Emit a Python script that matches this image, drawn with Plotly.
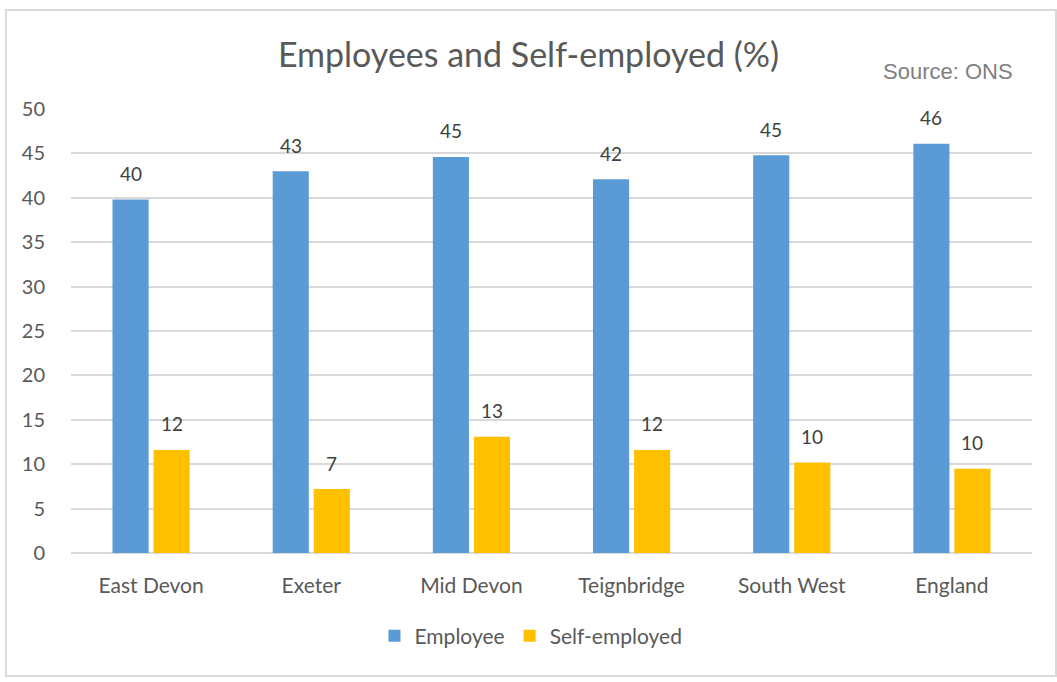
import plotly.graph_objects as go

# Share of residents by employment type, per area (ONS)
areas = ["East Devon", "Exeter", "Mid Devon", "Teignbridge", "South West", "England"]
employee = [39.8, 43.0, 44.6, 42.1, 44.8, 46.1]
self_employed = [11.6, 7.2, 13.1, 11.6, 10.2, 9.5]
y_ticks = [0, 5, 10, 15, 20, 25, 30, 35, 40, 45, 50]

W, H = 1057, 682
ML, MR, MT, MB = 71, 25, 109, 129
PW, PH = W - ML - MR, H - MT - MB

FONT = "Lato, 'Open Sans', sans-serif"
LABEL_FONT = dict(family=FONT, size=19, color="#404040")

BARGAP, GROUPGAP = 0.4875, 0.12
cat_px = PW / len(areas)
slot_px = cat_px * (1 - BARGAP) / 2  # horizontal space per series inside a group

fig = go.Figure()
fig.add_trace(go.Bar(
    name="Employee", x=areas, y=employee,
    marker=dict(color="#5B9BD5", line=dict(width=0)),
))
fig.add_trace(go.Bar(
    name="Self-employed", x=areas, y=self_employed,
    marker=dict(color="#FFC000", line=dict(width=0)),
))

# value labels floating above each bar
value_labels = []
for series, shift in ((employee, -slot_px / 2), (self_employed, slot_px / 2)):
    for area, v in zip(areas, series):
        value_labels.append(dict(
            x=area, y=v, xref="x", yref="y",
            text=f"{v:.0f}", showarrow=False,
            xshift=shift, yshift=26, yanchor="middle",
            font=LABEL_FONT,
        ))

def px_x(p):
    return (p - ML) / PW

def px_y(p):
    return (H - MB - p) / PH

fig.update_layout(
    width=W, height=H,
    margin=dict(l=ML, r=MR, t=MT, b=MB, pad=0),
    paper_bgcolor="white", plot_bgcolor="white",
    barmode="group", bargap=BARGAP, bargroupgap=GROUPGAP,
    title=dict(
        text="Employees and Self-employed (%)",
        x=0.5, xanchor="center", y=1 - 55 / H, yanchor="middle",
        font=dict(family=FONT, size=34, color="#595959"),
    ),
    font=dict(family=FONT, color="#595959"),
    showlegend=True,
    legend=dict(
        orientation="h", x=px_x(531), xanchor="center",
        y=px_y(636), yanchor="middle",
        font=dict(family=FONT, size=21, color="#595959"),
        itemwidth=30, traceorder="normal",
        bgcolor="rgba(0,0,0,0)",
    ),
    xaxis=dict(
        showgrid=False, showline=False, zeroline=False,
        ticks="", tickfont=dict(family=FONT, size=21, color="#595959"),
        ticklabelstandoff=18,
    ),
    yaxis=dict(
        range=[0, 50], tickvals=y_ticks,
        showgrid=True, gridcolor="#D9D9D9", gridwidth=2,
        zeroline=True, zerolinecolor="#D9D9D9", zerolinewidth=2,
        showline=False, ticks="",
        tickfont=dict(family=FONT, size=20, color="#595959"),
        ticklabelstandoff=25,
    ),
    annotations=value_labels + [dict(
        text="Source: ONS", xref="paper", yref="paper",
        x=px_x(1015), xanchor="right", y=px_y(71), yanchor="middle",
        showarrow=False,
        font=dict(family="'Liberation Sans', Arial, sans-serif", size=22, color="#7F7F7F"),
    )],
    shapes=[dict(
        type="rect", xref="paper", yref="paper",
        x0=px_x(6), x1=px_x(1056), y0=px_y(676), y1=px_y(10),
        line=dict(color="#D9D9D9", width=2), fillcolor="rgba(0,0,0,0)",
        layer="below",
    )],
)

fig.write_html("out.html")
